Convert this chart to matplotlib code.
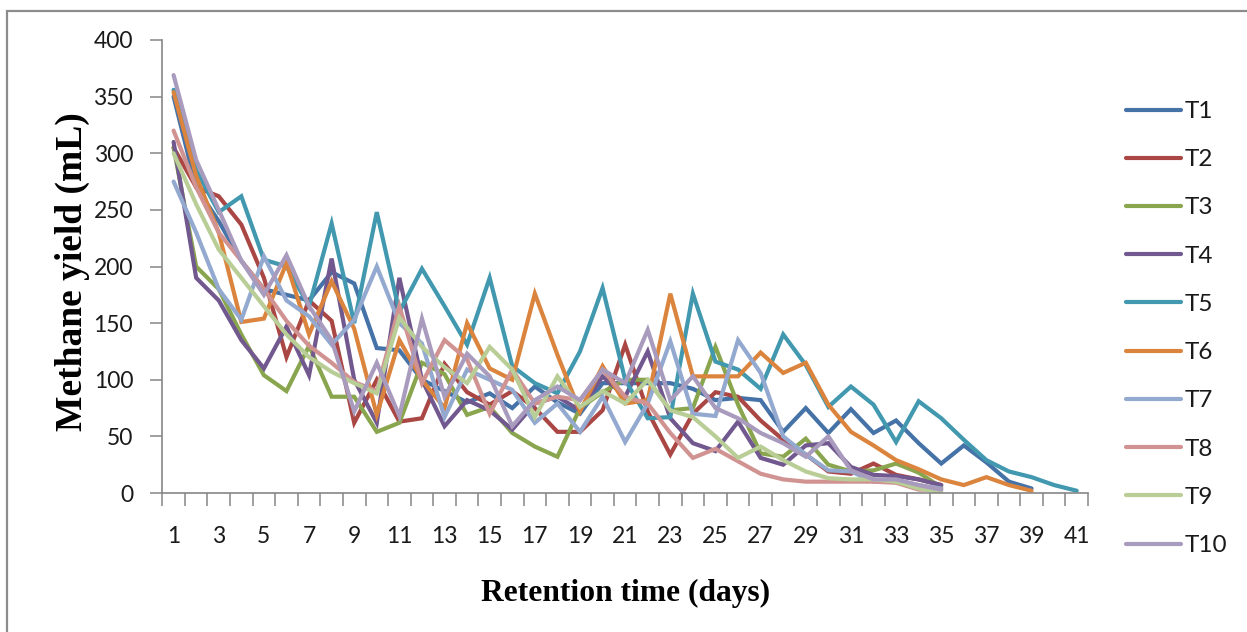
import matplotlib
matplotlib.use("Agg")
import matplotlib.pyplot as plt
import matplotlib.patches as mpatches
from matplotlib.ticker import FixedLocator, NullFormatter

days = list(range(1, 42))

T1 = [350, 270, 240, 205, 180, 175, 170, 195, 185, 128, 126, 100, 90, 80, 88, 75, 94, 80, 70, 97,
      97, 97, 97, 92, 82, 84, 82, 54, 75, 53, 74, 53, 64, 44, 26, 42, 27, 10, 4]
T2 = [305, 270, 262, 237, 190, 120, 170, 152, 62, 100, 63, 66, 114, 89, 78, 90, 75, 54, 54, 73,
      131, 72, 34, 70, 89, 85, 64, 47, 34, 19, 17, 26, 16, 12, 7]
T3 = [305, 200, 180, 140, 104, 90, 130, 85, 85, 54, 62, 115, 105, 69, 76, 53, 41, 32, 75, 89,
      100, 100, 73, 75, 129, 78, 35, 32, 48, 25, 19, 20, 26, 18, 5]
T4 = [310, 190, 170, 135, 110, 147, 104, 207, 100, 62, 190, 100, 59, 82, 73, 56, 79, 85, 73, 103,
      85, 125, 66, 44, 37, 63, 31, 25, 42, 44, 23, 16, 15, 12, 7]
T5 = [356, 285, 248, 262, 206, 200, 165, 238, 150, 248, 160, 198, 165, 131, 190, 112, 97, 88, 125, 181,
      100, 66, 67, 176, 116, 109, 92, 140, 113, 76, 94, 78, 45, 81, 66, 47, 29, 19, 14, 7, 2]
T6 = [354, 280, 230, 151, 154, 203, 140, 187, 145, 69, 135, 100, 75, 150, 110, 100, 176, 122, 72, 112,
      79, 82, 176, 103, 103, 103, 124, 106, 115, 78, 54, 42, 29, 21, 12, 7, 14, 7, 2]
T7 = [275, 230, 180, 153, 209, 170, 156, 131, 153, 200, 150, 132, 67, 109, 100, 91, 62, 79, 54, 85,
      45, 79, 134, 70, 68, 135, 106, 50, 34, 20, 19, 10, 11, 7, 4]
T8 = [320, 270, 230, 205, 180, 152, 130, 115, 98, 90, 165, 97, 135, 118, 70, 109, 79, 85, 82, 109,
      85, 79, 53, 31, 39, 28, 17, 12, 10, 10, 10, 10, 9, 3, 3]
T9 = [300, 255, 215, 190, 165, 140, 120, 107, 97, 88, 155, 129, 111, 97, 129, 109, 67, 103, 76, 90,
      79, 100, 73, 67, 50, 31, 41, 29, 19, 13, 12, 12, 10, 4, 1]
T10 = [369, 294, 250, 205, 175, 210, 165, 135, 72, 115, 68, 154, 85, 123, 103, 59, 82, 94, 82, 109,
       97, 144, 82, 103, 75, 66, 53, 44, 32, 50, 20, 12, 12, 7, 3]

series = [T1, T2, T3, T4, T5, T6, T7, T8, T9, T10]
names = ["T1", "T2", "T3", "T4", "T5", "T6", "T7", "T8", "T9", "T10"]
colors = ["#4572A7", "#AA4643", "#89A54E", "#71588F", "#4198AF",
          "#DB843D", "#93A9CF", "#D19392", "#B9CD96", "#A99BBD"]

W, H = 1247, 632
fig = plt.figure(figsize=(W / 100, H / 100), dpi=100)
fig.patch.set_facecolor("white")

# chart-area border (left and top visible)
fig.add_artist(mpatches.Rectangle((6.5 / W, -0.1), 1.2, 1.1 - 11 / H, transform=fig.transFigure,
                                  fill=False, edgecolor="#8c8c8c", linewidth=1.6))

ax = fig.add_axes([162.3 / W, 1 - 493 / H, (1088 - 162.3) / W, (493 - 40) / H])

for vals, name, c in zip(series, names, colors):
    ax.plot(days[:len(vals)], vals, color=c, lw=3.0, label=name, solid_capstyle="round",
            solid_joinstyle="miter")

ax.set_xlim(0.5, 41.5)
ax.set_ylim(0, 400)

axis_col = "#868686"
for s in ["top", "right"]:
    ax.spines[s].set_visible(False)
for s in ["left", "bottom"]:
    ax.spines[s].set_color(axis_col)
    ax.spines[s].set_linewidth(1.2)

ax.set_yticks(range(0, 401, 50))
ax.set_xticks(days[::2])
ax.set_xticklabels([str(d) for d in days[::2]])
ax.xaxis.set_minor_locator(FixedLocator([d - 0.5 for d in days] + [41.5]))
ax.xaxis.set_minor_formatter(NullFormatter())

ax.tick_params(axis="x", which="major", length=0, pad=24, labelsize=16.5, labelcolor="#1a1a1a")
ax.tick_params(axis="x", which="minor", length=9, width=1.1, color=axis_col, direction="out")
ax.tick_params(axis="y", which="major", length=9, width=1.1, color=axis_col, direction="out",
               pad=12, labelsize=16.5, labelcolor="#1a1a1a")
for lab in ax.get_xticklabels() + ax.get_yticklabels():
    lab.set_family("Lato")

ax.set_ylabel("Methane yield (mL)", family="Liberation Serif", fontweight="bold", fontsize=27)
ax.yaxis.set_label_coords((90 - 162.3) / 925.7, (493 - 272) / 453)
ax.set_xlabel("Retention time (days)", family="Liberation Serif", fontweight="bold", fontsize=22.7)
ax.xaxis.set_label_coords((626 - 162.3) / 925.7, (493 - 579) / 453)

leg = ax.legend(loc="upper left", bbox_to_anchor=(1126 / W, 1 - 101 / H),
                bbox_transform=fig.transFigure, frameon=False,
                handlelength=2.26, handletextpad=0.16, labelspacing=1.12,
                borderpad=0, borderaxespad=0, prop={"family": "Lato", "size": 17.5})
for t in leg.get_texts():
    t.set_color("#1a1a1a")

fig.savefig("out.png", dpi=100, facecolor="white")
